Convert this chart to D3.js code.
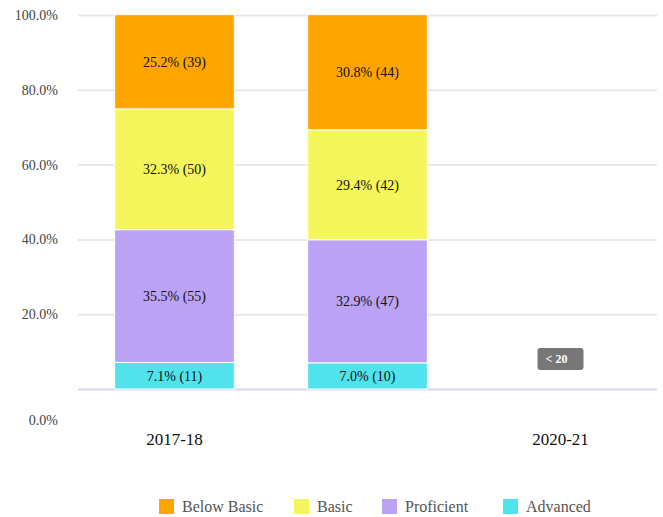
<!DOCTYPE html>
<html>
<head>
<meta charset="utf-8">
<script src="https://cdn.jsdelivr.net/npm/d3@7"></script>
<style>
  body { margin: 0; background: #ffffff; }
</style>
</head>
<body>
<div id="Chart"></div>
<script>
// Stacked 100% bar chart of performance levels by school year

//////////////////////////////////////////////////////////////////////////
// data

var years = ["2017-18", "2018-19", "2020-21"];
var yearLabels = ["2017-18", "", "2020-21"];   // middle label is not shown
var levels = ["Below Basic", "Basic", "Proficient", "Advanced"];
var levelColors = ["#ffa500", "#f5f55c", "#bca2f5", "#50e3ec"];

// percent and count per level, one entry per year (null = suppressed)
var belowBasicPct = [25.2, 30.8, null];
var belowBasicN   = [39, 44, null];
var basicPct      = [32.3, 29.4, null];
var basicN        = [50, 42, null];
var proficientPct = [35.5, 32.9, null];
var proficientN   = [55, 47, null];
var advancedPct   = [7.1, 7.0, null];
var advancedN     = [11, 10, null];

var suppressedLabel = "< 20";
var yTicks = [0, 0.2, 0.4, 0.6, 0.8, 1.0];

//////////////////////////////////////////////////////////////////////////
// "constant" globals

var Width = 663;
var Height = 517;
var Left = 78, Right = 657, Top = 15, Bottom = 389;
var Font = "'Liberation Serif', 'Times New Roman', serif";

//////////////////////////////////////////////////////////////////////////

function initialize () {

    var svg = d3.select("#Chart")
        .append("svg")
        .attr("width", Width)
        .attr("height", Height);

    var xScale = d3.scaleBand()
        .domain(years)
        .range([Left, Right])
        .paddingInner(0.38)
        .paddingOuter(0.19);

    var yScale = d3.scaleLinear()
        .domain([0, 1])
        .range([Bottom, Top]);

    // build rows for the stack
    var pcts = [advancedPct, proficientPct, basicPct, belowBasicPct];
    var counts = [advancedN, proficientN, basicN, belowBasicN];
    var order = ["Advanced", "Proficient", "Basic", "Below Basic"];

    var rows = years.map(function (y, i) {
        var row = { year: y };
        order.forEach(function (k, j) {
            row[k] = pcts[j][i] == null ? 0 : pcts[j][i] / 100;
            row[k + "_n"] = counts[j][i];
        });
        return row;
    });

    makeGrid(svg, yScale);
    makeBars(svg, rows, order, xScale, yScale);
    makeXAxis(svg, xScale);
    makeSuppressed(svg, xScale, yScale);
    makeLegend(svg);

} // end initialize

function makeGrid (svg, yScale) {

    var yAxis = d3.axisLeft(yScale)
        .tickValues(yTicks)
        .tickSize(-(Right - Left))
        .tickPadding(20)
        .tickFormat(function (d) { return (d * 100).toFixed(1) + "%"; });

    var g = svg.append("g")
        .attr("transform", "translate(" + Left + ",0)")
        .call(yAxis);

    g.select(".domain").remove();
    g.selectAll(".tick line")
        .attr("stroke", function (d) { return d === 0 ? "#d6d8ee" : "#e8e8e8"; })
        .attr("stroke-width", 2);
    g.selectAll(".tick text")
        .attr("font-family", Font)
        .attr("font-size", "14px")
        .attr("fill", "#444")
        // the 0.0% label sits below the baseline in the original
        .attr("dy", function (d) { return d === 0 ? "2.55em" : "0.32em"; });

} // end makeGrid

function makeBars (svg, rows, order, xScale, yScale) {

    var series = d3.stack().keys(order)(rows);

    var groups = svg.selectAll("g.layer")
        .data(series)
        .enter()
        .append("g")
        .attr("class", "layer")
        .attr("fill", function (d) { return levelColors[levels.indexOf(d.key)]; });

    groups.selectAll("rect")
        .data(function (d) { return d.map(function (p) { p.key = d.key; return p; }); })
        .enter()
        .filter(function (d) { return d[1] > d[0]; })
        .append("rect")
        .attr("x", function (d) { return xScale(d.data.year); })
        .attr("y", function (d) { return yScale(d[1]); })
        .attr("width", xScale.bandwidth())
        .attr("height", function (d) { return yScale(d[0]) - yScale(d[1]); })
        .attr("stroke", "#fff")
        .attr("stroke-width", 1);

    groups.selectAll("text")
        .data(function (d) { return d.filter(function (p) { return p[1] > p[0]; }); })
        .enter()
        .append("text")
        .attr("x", function (d) { return xScale(d.data.year) + xScale.bandwidth() / 2; })
        .attr("y", function (d) { return (yScale(d[0]) + yScale(d[1])) / 2; })
        .attr("dy", "0.35em")
        .attr("text-anchor", "middle")
        .attr("font-family", Font)
        .attr("font-size", "14px")
        .attr("fill", "#111")
        .text(function (d) {
            return (d.data[d.key] * 100).toFixed(1) + "% (" + d.data[d.key + "_n"] + ")";
        });

} // end makeBars

function makeXAxis (svg, xScale) {

    var xAxis = d3.axisBottom(xScale)
        .tickSize(0)
        .tickPadding(0)
        .tickFormat(function (d, i) { return yearLabels[i]; });

    var g = svg.append("g")
        .attr("transform", "translate(0," + (Bottom + 44) + ")")
        .call(xAxis);

    g.select(".domain").remove();
    g.selectAll(".tick text")
        .attr("font-family", Font)
        .attr("font-size", "17px")
        .attr("fill", "#111");

} // end makeXAxis

// grey badge for years with too few students
function makeSuppressed (svg, xScale, yScale) {

    years.forEach(function (y, i) {
        if (advancedPct[i] != null) return;
        var cx = xScale(y) + xScale.bandwidth() / 2;
        var cy = yScale(0.08);
        svg.append("rect")
            .attr("x", cx - 23)
            .attr("y", cy - 11)
            .attr("width", 46)
            .attr("height", 22)
            .attr("rx", 3)
            .attr("fill", "#777");
        svg.append("text")
            .attr("x", cx - 4)
            .attr("y", cy)
            .attr("dy", "0.35em")
            .attr("text-anchor", "middle")
            .attr("font-family", Font)
            .attr("font-size", "12px")
            .attr("font-weight", "bold")
            .attr("fill", "#fff")
            .text(suppressedLabel);
    });

} // end makeSuppressed

function makeLegend (svg) {

    var xs = [159, 294, 382, 503];   // left edge of each legend item

    var items = svg.selectAll("g.legend")
        .data(levels)
        .enter()
        .append("g")
        .attr("class", "legend")
        .attr("transform", function (d, i) { return "translate(" + xs[i] + ",499)"; });

    items.append("rect")
        .attr("width", 15)
        .attr("height", 15)
        .attr("fill", function (d, i) { return levelColors[i]; });

    items.append("text")
        .attr("x", 23)
        .attr("y", 7.5)
        .attr("dy", "0.35em")
        .attr("font-family", Font)
        .attr("font-size", "16px")
        .attr("fill", "#555")
        .text(function (d) { return d; });

} // end makeLegend

initialize();
</script>
</body>
</html>
